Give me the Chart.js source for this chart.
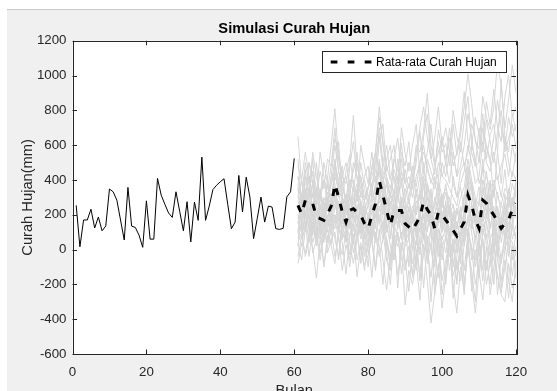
<!DOCTYPE html>
<html>
<head>
<meta charset="utf-8">
<title>Simulasi Curah Hujan</title>
<script src="https://cdn.jsdelivr.net/npm/chart.js@4.4.0/dist/chart.umd.min.js"></script>
<style>
  html, body { margin: 0; padding: 0; background: #ffffff; }
  canvas { display: block; }
</style>
</head>
<body>
<canvas id="myChart" width="557" height="391"></canvas>
<script>
// Data (mm per month)
// months 1..60 observed
const histValues = [
  254, 16, 170, 170, 232, 124, 187, 108, 135, 348,
  332, 284, 170, 55, 357, 135, 127, 83, 13, 280,
  60, 60, 409, 313, 260, 210, 185, 332, 220, 108,
  275, 44, 273, 168, 531, 168, 250, 345, 370, 390,
  407, 260, 120, 158, 426, 216, 416, 302, 63, 180,
  302, 158, 250, 244, 120, 116, 122, 303, 332, 524
];

// months 61..120 average of the simulations
const meanValues = [
  254, 206, 283, 264, 264, 187, 178, 168, 205, 250,
  375, 302, 216, 158, 225, 235, 215, 197, 150, 120,
  197, 264, 397, 311, 225, 139, 225, 225, 225, 149,
  130, 111, 150, 188, 275, 230, 198, 122, 217, 198,
  170, 141, 110, 78, 120, 160, 313, 256, 170, 122,
  284, 266, 230, 198, 160, 122, 150, 170, 230, 266
];

// months 61..120, simulated runs (grey)
const simRuns = [
  [380, 120, 450, 300, 520, 260, 340, 150, 410, 600,
   810, 520, 380, 260, 470, 620, 400, 310, 280, 350,
   480, 560, 760, 620, 390, 300, 520, 450, 610, 380,
   420, 350, 560, 700, 820, 640, 520, 430, 690, 560,
   610, 480, 720, 540, 660, 820, 1010, 840, 620, 580,
   880, 760, 690, 820, 1080, 940, 700, 860, 1060, 900],
  [-80, 40, -20, 100, 10, -164, 60, -78, 20, 110,
   -40, 80, -120, 30, -60, 90, -156, 20, -90, -30,
   60, -100, 120, -60, -233, -40, 50, -150, 20, -319,
   -120, -200, -60, -290, 30, -180, -422, -250, -80, -336,
   -150, 20, -200, -365, -100, -240, 40, -180, -365, -120,
   -290, -60, -200, 30, -150, -260, -300, -80, -220, -140],
  [300, 260, 380, 420, 180, 250, 120, 300, 240, 190,
   420, 350, 280, 120, 300, 180, 340, 260, 120, 200,
   260, 380, 450, 280, 160, 240, 330, 180, 300, 220,
   180, 60, 240, 300, 420, 350, 160, 250, 380, 200,
   260, 110, 200, 40, 190, 300, 480, 350, 240, 150,
   400, 310, 220, 350, 200, 90, 270, 330, 190, 420],
  [150, 320, 200, 120, 400, 90, 260, 200, 100, 300,
   330, 200, 150, 250, 120, 380, 160, 90, 230, 60,
   140, 300, 350, 420, 250, 80, 180, 360, 140, 260,
   60, 210, 120, -30, 300, 180, 350, 80, 150, 320,
   100, 250, -20, 160, 60, 230, 380, 120, 290, 40,
   200, 380, 120, 250, -40, 160, 320, 60, 280, 180],
  [420, 280, 200, 350, 310, 260, 80, 240, 330, 160,
   500, 400, 320, 60, 260, 300, 380, 140, 250, 180,
   90, 350, 520, 300, 380, 200, 120, 300, 410, 160,
   300, 150, 280, 220, 120, 380, 260, -40, 300, 240,
   330, 190, 260, 120, 250, 80, 420, 330, 160, 280,
   520, 200, 380, 140, 330, 200, 60, 350, 250, 390],
  [200, 100, 300, 180, 250, 330, 200, 60, 180, 280,
   360, 250, 120, 200, 320, 150, 220, 280, 60, 150,
   260, 180, 300, 380, 120, 60, 300, 200, 150, 100,
   200, 90, 30, 250, 380, 120, 200, 160, 40, 220,
   50, 200, 130, 60, 180, 320, 260, 150, 60, 200,
   160, 300, 60, 120, 240, 40, 180, 100, 300, 200],
  [480, 400, 560, 420, 380, 300, 450, 350, 520, 480,
   640, 560, 420, 380, 500, 773, 460, 420, 300, 360,
   450, 560, 820, 600, 480, 400, 520, 640, 450, 380,
   500, 420, 600, 560, 680, 898, 600, 480, 560, 620,
   520, 640, 480, 560, 700, 907, 620, 560, 480, 700,
   560, 745, 620, 500, 680, 800, 560, 640, 720, 580],
  [100, 20, 160, -40, 130, 60, -20, 80, 120, 30,
   180, 60, -30, 100, 40, -80, 60, 150, -40, 20,
   120, 40, 200, 100, -60, -120, 80, 20, 100, -100,
   -40, 60, -120, 80, 150, 0, -160, 60, 120, -60,
   80, -120, 40, -200, 20, 100, 160, -60, 80, -160,
   120, 40, -100, 150, -60, -180, 0, 80, 40, -40],
  [250, 180, 330, 280, 200, 150, 300, 250, 160, 320,
   280, 180, 250, 300, 160, 220, 120, 260, 200, 90,
   220, 300, 360, 200, 300, 150, 240, 200, 280, 120,
   240, 160, 100, 240, 220, 300, 150, 200, 280, 150,
   220, 90, 200, 150, 60, 240, 300, 380, 150, 100,
   300, 220, 280, 160, 80, 200, 140, 250, 300, 220],
  [300, 400, 250, 330, 260, 200, 150, 120, 250, 380,
   450, 330, 200, 240, 180, 260, 300, 200, 160, 80,
   320, 260, 480, 350, 200, 280, 150, 320, 200, 180,
   100, 200, 350, 160, 400, 250, 120, 300, 220, 300,
   180, 260, 80, 220, 160, 100, 400, 260, 200, 60,
   360, 250, 400, 180, 250, 120, 200, 300, 160, 350],
  [180, 250, 150, 220, 320, 120, 200, 280, 130, 200,
   300, 120, 260, 100, 240, 180, 130, 240, 80, 200,
   150, 200, 300, 240, 100, 180, 260, 120, 200, 80,
   160, 40, 180, 100, 250, 160, 220, 60, 200, 100,
   240, 60, 150, -20, 120, 200, 250, 180, 60, 150,
   220, 150, 240, 80, 120, 180, 60, 200, 120, 260],
  [350, 300, 450, 500, 380, 250, 320, 400, 280, 420,
   600, 450, 350, 300, 400, 330, 500, 380, 280, 350,
   420, 500, 650, 450, 380, 300, 420, 350, 450, 300,
   380, 300, 420, 500, 600, 450, 400, 350, 500, 420,
   400, 350, 300, 250, 380, 450, 600, 500, 380, 420,
   620, 500, 450, 560, 400, 480, 550, 420, 600, 500],
  [120, 60, 220, 250, 180, 80, 150, 40, 160, 100,
   250, 200, 100, 50, 180, 120, 60, 150, 100, -20,
   80, 150, 250, 180, 60, -40, 120, 200, 60, 20,
   60, -80, 40, 120, 200, 60, 0, -100, 120, 60,
   120, -40, 60, -120, 0, 60, 200, 100, -60, 20,
   150, 80, -40, 60, 0, -80, 100, 40, 120, 60],
  [420, 300, 500, 380, 450, 350, 280, 400, 350, 480,
   700, 450, 380, 420, 300, 500, 420, 350, 400, 300,
   380, 450, 700, 500, 420, 350, 460, 380, 520, 400,
   300, 420, 360, 500, 560, 480, 380, 460, 620, 420,
   500, 380, 560, 420, 480, 600, 780, 650, 480, 500,
   700, 600, 500, 650, 860, 700, 580, 760, 650, 720],
  [60, 150, 100, 200, 40, 120, 60, 150, 200, 90,
   200, 140, 60, 120, -30, 150, 80, -60, 100, 40,
   150, 60, 250, 120, 40, -100, 150, 60, -50, -120,
   20, -140, 60, 0, 120, -80, 40, -200, 60, -180,
   -60, 40, -150, -60, -180, 40, 120, 0, -200, -80,
   60, -120, 60, -60, -150, -250, -100, 40, -150, 20],
  [280, 220, 350, 300, 380, 200, 250, 180, 300, 260,
   480, 380, 300, 200, 300, 260, 350, 280, 200, 250,
   300, 350, 500, 420, 300, 250, 350, 300, 380, 260,
   280, 200, 320, 300, 450, 380, 300, 250, 400, 300,
   350, 280, 250, 200, 300, 360, 520, 400, 300, 250,
   480, 420, 350, 400, 300, 260, 350, 320, 450, 400],
  [350, 150, 250, 420, 300, 500, 260, 180, 380, 300,
   250, 380, 480, 220, 350, 400, 280, 500, 350, 260,
   380, 220, 300, 500, 600, 420, 300, 520, 380, 460,
   350, 480, 300, 420, 250, 520, 450, 380, 300, 500,
   420, 560, 380, 300, 450, 500, 350, 600, 520, 380,
   450, 600, 520, 300, 560, 380, 650, 500, 420, 560],
  [20, 260, 350, 100, 220, 40, 330, 260, 50, 180,
   120, 280, 60, 320, 200, 30, 260, 100, 220, 300,
   40, 200, 160, 60, 300, 200, -60, 150, 260, 40,
   250, 100, -80, 200, 60, 260, 100, 180, -40, 140,
   280, 40, 180, 100, -80, 200, 80, 260, 140, -40,
   80, 200, 320, -20, 200, 100, 250, -40, 160, 60],
  [650, 380, 280, 500, 420, 300, 560, 420, 260, 380,
   520, 300, 420, 500, 380, 450, 560, 300, 420, 480,
   300, 560, 450, 380, 520, 600, 400, 300, 560, 480,
   620, 380, 500, 680, 450, 560, 720, 500, 400, 650,
   480, 700, 560, 420, 620, 480, 560, 720, 640, 500,
   780, 520, 660, 720, 560, 980, 640, 560, 780, 680],
  [230, 320, 120, 280, 200, 360, 140, 220, 300, 120,
   330, 240, 180, 280, 140, 300, 200, 120, 280, 180,
   240, 120, 350, 260, 180, 320, 260, 140, 220, 300,
   150, 250, 200, 320, 180, 100, 260, 200, 320, 120,
   200, 300, 120, 240, 180, 300, 220, 160, 280, 200,
   260, 180, 300, 220, 140, 260, 200, 300, 180, 240],
  [-40, 80, 200, 40, 160, 20, 120, 180, -20, 60,
   100, -60, 140, 40, 200, -20, 80, 160, 40, -100,
   160, 80, -40, 60, 160, 20, -60, 100, 0, 160,
   -100, 80, 0, -150, 100, -60, 120, -20, -160, 80,
   -20, 100, -100, 40, -40, -260, 100, 20, -100, 60,
   -120, 160, 20, -200, 80, -60, 20, 160, -60, 100],
  [180, 200, 420, 330, 120, 280, 350, 200, 260, 420,
   380, 160, 300, 250, 380, 200, 300, 420, 180, 260,
   350, 420, 280, 200, 400, 320, 200, 420, 260, 350,
   260, 380, 200, 350, 500, 300, 240, 420, 350, 250,
   380, 200, 420, 300, 360, 220, 450, 380, 250, 360,
   300, 450, 250, 380, 420, 300, 460, 250, 380, 300],
  [520, 260, 180, 330, 560, 420, 300, 500, 380, 250,
   480, 620, 300, 450, 540, 380, 300, 600, 480, 380,
   560, 380, 620, 720, 450, 520, 600, 380, 700, 550,
   450, 600, 720, 420, 650, 780, 520, 640, 820, 600,
   700, 560, 800, 650, 560, 740, 880, 600, 760, 660,
   600, 850, 720, 920, 700, 620, 880, 1000, 760, 820],
  [100, 300, 180, 240, 80, 200, 250, 100, 280, 160,
   200, 100, 220, 160, 60, 250, 180, 60, 160, 120,
   60, 240, 160, 300, 100, 180, 120, 250, 60, 200,
   120, 200, 80, 160, 60, 200, 120, 40, 240, 100,
   160, 40, 220, 120, 240, 20, 180, 120, 200, 80,
   200, 60, 140, 200, 40, 160, 100, 220, 60, 140],
  [40, -60, 120, 200, -20, 60, 150, -100, 80, 20,
   -80, 120, 40, -140, 80, 160, -60, 40, -120, 60,
   -160, 100, 20, -200, 60, -80, 120, -220, 40, -60,
   -240, 20, 100, -180, -20, 80, -300, -40, 60, -260,
   -100, 60, -280, -40, 100, -200, 0, -120, -300, 40,
   -180, 20, -260, -100, 40, -220, -60, -280, 20, -160],
  [160, 100, -40, 60, 200, 120, -60, 100, 40, 200,
   60, -40, 180, 100, -100, 60, 120, -80, 0, 140,
   40, -120, 80, 160, -20, -200, 60, 100, -140, 40,
   100, -160, -40, 60, -220, 40, 120, -260, -100, 40,
   -200, 80, -60, -180, 60, -120, 100, -240, 0, -160,
   60, -200, -80, 100, -260, -40, 60, -180, -300, -60]
];

const histStart = 1;
const simStart = 61;
const xTicks = [0, 20, 40, 60, 80, 100, 120];
const yTicks = [-600, -400, -200, 0, 200, 400, 600, 800, 1000, 1200];
const meanLabel = 'Rata-rata Curah Hujan';

const fontFamily = '"Liberation Sans", Arial, Helvetica, sans-serif';
const axisColor = '#262626';

function toPoints(values, start) {
  return values.map((v, i) => ({ x: start + i, y: v }));
}

// grey simulation runs
const datasets = simRuns.map((run, i) => ({
  label: 'Simulasi ' + (i + 1),
  data: toPoints(run, simStart),
  borderColor: '#d6d6d6',
  borderWidth: 1,
  pointRadius: 0,
  order: 3
}));

datasets.push({
  label: 'Data Curah Hujan',
  data: toPoints(histValues, histStart),
  borderColor: '#000000',
  borderWidth: 1,
  pointRadius: 0,
  order: 2
});

datasets.push({
  label: meanLabel,
  data: toPoints(meanValues, simStart),
  borderColor: '#000000',
  borderWidth: 3,
  borderDash: [7, 9],
  pointRadius: 0,
  order: 1
});

// figure background + white axes area
const figureBg = {
  id: 'figureBg',
  beforeDraw(chart) {
    const ctx = chart.ctx;
    const a = chart.chartArea;
    ctx.save();
    ctx.fillStyle = '#ffffff';
    ctx.fillRect(0, 0, chart.width, chart.height);
    ctx.fillStyle = '#f0f0f0';
    ctx.fillRect(7, 10, chart.width - 7, chart.height - 10);
    ctx.strokeStyle = '#c8c8c8';
    ctx.lineWidth = 1;
    ctx.beginPath();
    ctx.moveTo(7, 9.5);
    ctx.lineTo(chart.width, 9.5);
    ctx.stroke();
    ctx.fillStyle = '#ffffff';
    ctx.fillRect(a.left, a.top, a.right - a.left, a.bottom - a.top);
    ctx.restore();
  }
};

// box around the axes with inward ticks on every side
const axesBox = {
  id: 'axesBox',
  afterDatasetsDraw(chart) {
    const ctx = chart.ctx;
    const a = chart.chartArea;
    const xs = chart.scales.x, ys = chart.scales.y;
    const tl = 4.5;
    ctx.save();
    ctx.strokeStyle = axisColor;
    ctx.lineWidth = 1;
    ctx.beginPath();
    xTicks.forEach(t => {
      const px = Math.round(xs.getPixelForValue(t)) + 0.5;
      ctx.moveTo(px, a.bottom); ctx.lineTo(px, a.bottom - tl);
      ctx.moveTo(px, a.top); ctx.lineTo(px, a.top + tl);
    });
    yTicks.forEach(t => {
      const py = Math.round(ys.getPixelForValue(t)) + 0.5;
      ctx.moveTo(a.left, py); ctx.lineTo(a.left + tl, py);
      ctx.moveTo(a.right, py); ctx.lineTo(a.right - tl, py);
    });
    ctx.stroke();
    ctx.strokeRect(Math.round(a.left) + 0.5, Math.round(a.top) + 0.5,
      Math.round(a.right - a.left), Math.round(a.bottom - a.top));
    ctx.restore();
  }
};

// MATLAB style legend inside the axes (north east)
const insideLegend = {
  id: 'insideLegend',
  afterDraw(chart) {
    const ctx = chart.ctx;
    const ds = chart.data.datasets.find(d => d.label === meanLabel);
    const left = 322.5, top = 51.5, right = 506.5, bottom = 72.5;
    const midY = (top + bottom) / 2;
    ctx.save();
    ctx.fillStyle = '#ffffff';
    ctx.fillRect(left, top, right - left, bottom - top);
    ctx.strokeStyle = axisColor;
    ctx.lineWidth = 1;
    ctx.strokeRect(left, top, right - left, bottom - top);
    ctx.strokeStyle = ds.borderColor;
    ctx.lineWidth = ds.borderWidth;
    ctx.setLineDash([6.7, 10.3]);
    ctx.beginPath();
    ctx.moveTo(330.7, midY);
    ctx.lineTo(372, midY);
    ctx.stroke();
    ctx.setLineDash([]);
    ctx.fillStyle = '#000000';
    ctx.font = '12px ' + fontFamily;
    ctx.textBaseline = 'middle';
    ctx.textAlign = 'left';
    ctx.fillText(ds.label, 376, midY + 0.5);
    ctx.restore();
  }
};

const ctx = document.getElementById('myChart');
const myChart = new Chart(ctx, {
  type: 'line',
  data: { datasets: datasets },
  plugins: [figureBg, axesBox, insideLegend],
  options: {
    responsive: false,
    animation: false,
    devicePixelRatio: 1,
    layout: { padding: { left: 7, right: 41, top: 10, bottom: 0 } },
    elements: { line: { tension: 0 } },
    plugins: {
      legend: { display: false },
      tooltip: { enabled: false },
      title: {
        display: true,
        text: 'Simulasi Curah Hujan',
        fullSize: false,
        color: '#000000',
        font: { family: fontFamily, size: 14.7, weight: 'bold' },
        padding: { top: 10.2, bottom: 2.9 }
      }
    },
    scales: {
      x: {
        type: 'linear',
        min: 0,
        max: 120,
        grid: { display: false, drawTicks: false },
        border: { display: false },
        afterBuildTicks: scale => { scale.ticks = xTicks.map(v => ({ value: v })); },
        afterFit: scale => { scale.height = 37; },
        ticks: {
          padding: 10,
          color: axisColor,
          font: { family: fontFamily, size: 13.3 },
          maxRotation: 0,
          callback: v => String(v)
        },
        title: {
          display: true,
          text: 'Bulan',
          color: axisColor,
          font: { family: fontFamily, size: 14.7 },
          padding: { top: 0, bottom: -9 }
        }
      },
      y: {
        type: 'linear',
        min: -600,
        max: 1200,
        grid: { display: false, drawTicks: false },
        border: { display: false },
        afterBuildTicks: scale => { scale.ticks = yTicks.map(v => ({ value: v })); },
        afterFit: scale => { scale.width = 65.5; },
        ticks: {
          padding: 6,
          color: axisColor,
          font: { family: fontFamily, size: 13.3 },
          callback: v => String(v)
        },
        title: {
          display: true,
          text: 'Curah Hujan(mm)',
          color: axisColor,
          font: { family: fontFamily, size: 14.7 },
          padding: { top: 12.2, bottom: 0 }
        }
      }
    }
  }
});
</script>
</body>
</html>
